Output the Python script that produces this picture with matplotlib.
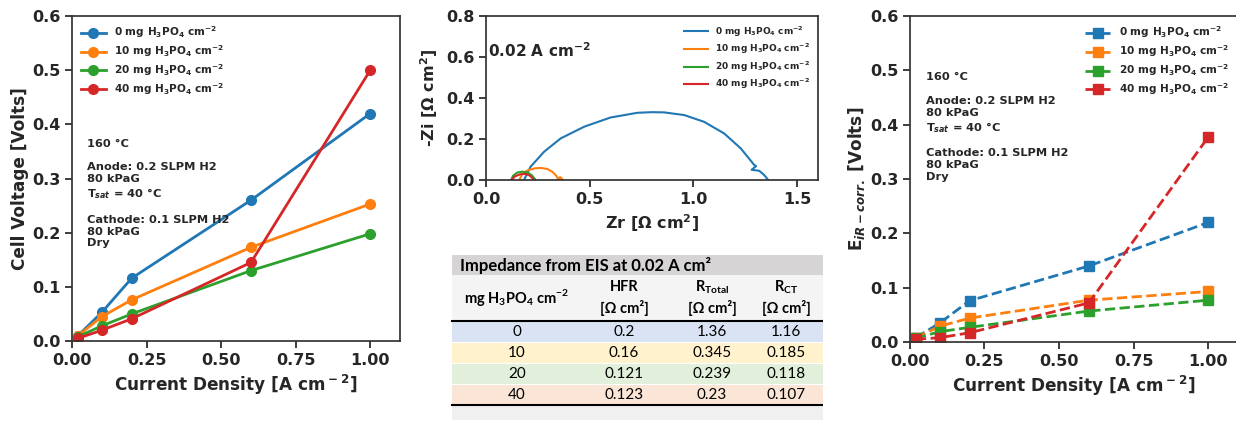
import matplotlib
matplotlib.use('Agg')
import matplotlib.pyplot as plt
from matplotlib.patches import Rectangle

# polarisation data, current density in A cm^-2
current = [0.02, 0.1, 0.2, 0.6, 1.0]
loadings = ['0', '10', '20', '40']

v_0mg = [0.010, 0.053, 0.116, 0.260, 0.420]
v_10mg = [0.010, 0.045, 0.076, 0.173, 0.253]
v_20mg = [0.008, 0.028, 0.050, 0.130, 0.198]
v_40mg = [0.005, 0.020, 0.041, 0.145, 0.500]

# iR-corrected voltage
ir_0mg = [0.008, 0.035, 0.076, 0.140, 0.220]
ir_10mg = [0.008, 0.029, 0.044, 0.077, 0.093]
ir_20mg = [0.007, 0.019, 0.027, 0.057, 0.077]
ir_40mg = [0.005, 0.008, 0.017, 0.072, 0.377]

# Nyquist spectra at 0.02 A cm^-2
zr_0mg = [0.183, 0.215, 0.28, 0.36, 0.473, 0.60, 0.73, 0.80, 0.858, 0.955, 1.051, 1.148,
          1.228, 1.293, 1.302, 1.28, 1.317, 1.341, 1.36]
zi_0mg = [0.0, 0.065, 0.138, 0.203, 0.26, 0.305, 0.328, 0.331, 0.33, 0.317, 0.284, 0.227,
          0.154, 0.073, 0.068, 0.050, 0.045, 0.024, 0.0]
zr_10mg = [0.16, 0.175, 0.20, 0.235, 0.265, 0.295, 0.32, 0.338, 0.348, 0.358, 0.352, 0.365, 0.37]
zi_10mg = [0.0, 0.030, 0.047, 0.057, 0.059, 0.054, 0.040, 0.022, 0.004, 0.014, 0.006, 0.008, 0.0]
zr_20mg = [0.121, 0.13, 0.15, 0.175, 0.20, 0.22, 0.235, 0.239]
zi_20mg = [0.0, 0.020, 0.036, 0.041, 0.037, 0.024, 0.006, 0.0]
zr_40mg = [0.123, 0.14, 0.165, 0.19, 0.21, 0.225, 0.23]
zi_40mg = [0.0, 0.018, 0.028, 0.030, 0.022, 0.008, 0.0]

# fitted resistances
table_loading = ['0', '10', '20', '40']
table_hfr = ['0.2', '0.16', '0.121', '0.123']
table_rtotal = ['1.36', '0.345', '0.239', '0.23']
table_rct = ['1.16', '0.185', '0.118', '0.107']
row_colors = ['#dae3f3', '#fff2cc', '#e2efda', '#fbe5d6']

colors = ['#1f77b4', '#ff7f0e', '#2ca02c', '#d62728']

plt.rcParams.update({
    'font.family': 'DejaVu Sans',
    'font.weight': 'bold',
    'axes.labelweight': 'bold',
    'mathtext.fontset': 'custom',
    'mathtext.rm': 'DejaVu Sans:bold',
    'mathtext.bf': 'DejaVu Sans:bold',
    'mathtext.it': 'DejaVu Sans:italic:bold',
    'text.color': '.15',
    'axes.labelcolor': '.15',
    'axes.edgecolor': '.2',
    'axes.linewidth': 1.25,
    'xtick.color': '.15',
    'ytick.color': '.15',
    'xtick.major.width': 1.25,
    'ytick.major.width': 1.25,
    'xtick.major.size': 5,
    'ytick.major.size': 5,
})

labels = [l + r' mg H$_3$PO$_4$ cm$^{-2}$' for l in loadings]
conditions = ('160 °C\n\nAnode: 0.2 SLPM H2\n80 kPaG\nT$_{sat}$ = 40 °C\n\n'
              'Cathode: 0.1 SLPM H2\n80 kPaG\nDry')
xlabel = r'Current Density [A cm$^-$$^2$]'

fig = plt.figure(figsize=(12.36, 4.21), dpi=100)

# --- polarisation curves
ax1 = fig.add_axes([0.0583, 0.190, 0.2654, 0.772])
for v, c, lab in zip([v_0mg, v_10mg, v_20mg, v_40mg], colors, labels):
    ax1.plot(current, v, '-o', color=c, lw=2, ms=7, label=lab)
ax1.set_xlim(0, 1.1)
ax1.set_ylim(0, 0.6)
ax1.set_xticks([0, 0.25, 0.5, 0.75, 1.0])
ax1.tick_params(labelsize=11.5)
ax1.set_xlabel(xlabel, fontsize=12.2)
ax1.set_ylabel('Cell Voltage [Volts]', fontsize=12.2, labelpad=2)
ax1.legend(loc='upper left', frameon=False, fontsize=7.6, handlelength=2.4,
           labelspacing=0.3, borderaxespad=0.4)
ax1.text(0.046, 0.622, conditions, transform=ax1.transAxes, fontsize=8.2,
         va='top', ha='left', linespacing=1.22)

# --- Nyquist plot
ax2 = fig.add_axes([0.3932, 0.5724, 0.2686, 0.3895])
for zr, zi, c, lab in zip([zr_0mg, zr_10mg, zr_20mg, zr_40mg],
                          [zi_0mg, zi_10mg, zi_20mg, zi_40mg], colors, labels):
    ax2.plot(zr, zi, '-', color=c, lw=1.5, label=lab)
ax2.set_xlim(0, 1.6)
ax2.set_ylim(0, 0.8)
ax2.set_xticks([0, 0.5, 1.0, 1.5])
ax2.tick_params(labelsize=11.5)
ax2.set_xlabel(r'Zr [$\Omega$ cm$^2$]', fontsize=11.5)
ax2.set_ylabel(r'-Zi [$\Omega$ cm$^2$]', fontsize=11.5)
ax2.legend(loc='upper right', frameon=False, fontsize=6.5, handlelength=2.6,
           labelspacing=0.35)
ax2.text(0.005, 0.79, r'0.02 A cm$^{-2}$', transform=ax2.transAxes, fontsize=11,
         va='center', ha='left')

# --- iR-corrected curves
ax3 = fig.add_axes([0.7362, 0.1876, 0.2654, 0.7743])
for v, c, lab in zip([ir_0mg, ir_10mg, ir_20mg, ir_40mg], colors, labels):
    ax3.plot(current, v, '--s', color=c, lw=2, ms=7, label=lab)
ax3.set_xlim(0, 1.1)
ax3.set_ylim(0, 0.6)
ax3.set_xticks([0, 0.25, 0.5, 0.75, 1.0])
ax3.tick_params(labelsize=11.5)
ax3.set_xlabel(xlabel, fontsize=12.2)
ax3.set_ylabel(r'E$_{iR-corr.}$ [Volts]', fontsize=12.2, labelpad=2)
ax3.legend(loc='upper right', frameon=False, fontsize=7.6, handlelength=2.4,
           labelspacing=0.3, borderaxespad=0.4)
ax3.text(0.049, 0.827, conditions, transform=ax3.transAxes, fontsize=8.2,
         va='top', ha='left', linespacing=1.22)

# --- resistance table, laid out in pixel units
axt = fig.add_axes([448 / 1236, 1 / 421, 375 / 1236, 165 / 421])
axt.set_xlim(448, 823)
axt.set_ylim(420, 255)
axt.axis('off')
tfont = dict(family='Lato', color='black')

axt.add_patch(Rectangle((452, 255), 371, 20, color='#d6d4d4', lw=0))
axt.add_patch(Rectangle((452, 275), 371, 45, color='#f4f4f4', lw=0))
axt.add_patch(Rectangle((452, 406), 371, 14, color='#f0f0f0', lw=0))
axt.text(460, 265.5, 'Impedance from EIS at 0.02 A cm²', fontsize=12, fontweight='bold',
         va='center', ha='left', **tfont)

col_x = [517, 624, 712, 786]
headers = [r'mg H$_{\mathregular{3}}$PO$_{\mathregular{4}}$ cm$^{\mathregular{-2}}$',
           'HFR', r'R$_{\mathregular{Total}}$', r'R$_{\mathregular{CT}}$']
axt.text(col_x[0], 298, headers[0], fontsize=10.5, fontweight='bold',
         va='center', ha='center', **tfont)
for x, h in zip(col_x[1:], headers[1:]):
    axt.text(x, 287, h, fontsize=10.5, fontweight='bold', va='center', ha='center', **tfont)
    axt.text(x, 308, '[Ω cm²]', fontsize=10.5, fontweight='bold', va='center', ha='center', **tfont)

row_h = 21
for i, rc in enumerate(row_colors):
    y0 = 322 + i * row_h
    axt.add_patch(Rectangle((452, y0), 371, row_h - 1.5, color=rc, lw=0))
    for x, val in zip(col_x, [table_loading[i], table_hfr[i], table_rtotal[i], table_rct[i]]):
        axt.text(x, y0 + row_h / 2 - 0.5, val, fontsize=11, va='center', ha='center',
                 fontweight='normal', **tfont)
axt.plot([452, 823], [320.5, 320.5], color='black', lw=1.5)
axt.plot([452, 823], [405, 405], color='black', lw=1.5)

fig.savefig('out.png', dpi=100)
